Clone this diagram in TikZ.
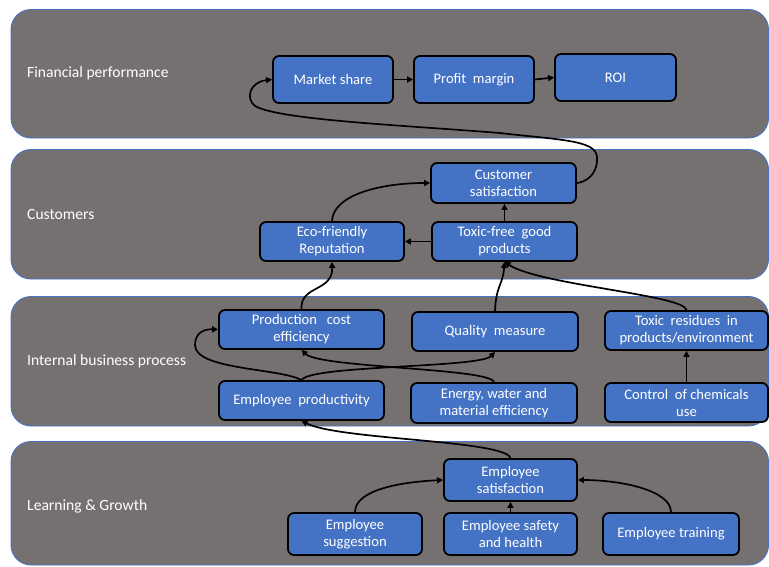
\documentclass[tikz,border=0pt]{standalone}
\usepackage{fontspec}
\setmainfont{Carlito}
\usetikzlibrary{arrows.meta}
\definecolor{bandgray}{HTML}{767171}
\definecolor{bandblue}{HTML}{4472C4}
\definecolor{boxblue}{HTML}{4472C4}
\begin{document}
\begin{tikzpicture}[x=1pt,y=-1pt,
  band/.style={draw=bandblue,line width=0.9pt,fill=bandgray,rounded corners=20pt},
  bandlabel/.style={anchor=west,text=white,font=\fontsize{15.6}{18}\selectfont,inner sep=0pt},
  box/.style={draw=black,line width=1.8pt,fill=boxblue,rounded corners=6pt,text=white,
    font=\fontsize{14.6}{17}\selectfont,align=center,inner sep=0pt},
  conn/.style={draw=black,line width=1.7pt,-{Triangle[length=6pt,width=6pt]}}]
\useasboundingbox (0,0) rectangle (769,566);
\begin{scope}
\clip (0,0) rectangle (769,566);
% bands
\draw[band] (11,9.5) rectangle (768.5,138);
\draw[band] (11,149.5) rectangle (768.5,279);
\draw[band] (11,296.5) rectangle (768.5,426);
\draw[band] (11,441.5) rectangle (768.5,565);
\node[bandlabel] (l1) at (27,73) {Financial performance};
\node[bandlabel] (l2) at (27,214) {Customers};
\node[bandlabel] (l3) at (27,361) {Internal business process};
\node[bandlabel] (l4) at (27,506) {Learning \& Growth};
% boxes
\node[box,minimum width=120pt,minimum height=47pt] (ms) at (333,79.5) {Market share};
\node[box,minimum width=120pt,minimum height=47pt] (pm) at (474,79.5) {Profit\ \ margin};
\node[box,minimum width=121pt,minimum height=47pt] (roi) at (615.5,77.5) {ROI};
\node[box,minimum width=145pt,minimum height=40pt] (cs) at (503.5,183) {Customer\\satisfaction};
\node[box,minimum width=144pt,minimum height=39pt] (eco) at (332,241.5) {Eco-friendly\\Reputation};
\node[box,minimum width=145pt,minimum height=39pt] (tf) at (504.5,241.5) {Toxic-free\ \ good\\products};
\node[box,minimum width=165pt,minimum height=39pt] (pce) at (301.5,329.5) {Production\ \ \ cost\\efficiency};
\node[box,minimum width=166pt,minimum height=39pt] (qm) at (495,331.5) {Quality\ \ measure};
\node[box,minimum width=163pt,minimum height=39pt] (tr) at (686.5,330.5) {Toxic\ \ residues\ \ in\\products/environment};
\node[box,minimum width=165pt,minimum height=39pt] (ep) at (301.5,400.5) {Employee\ \ productivity};
\node[box,minimum width=166pt,minimum height=40pt] (ew) at (494,403) {Energy, water and\\material efficiency};
\node[box,minimum width=163pt,minimum height=39pt] (cc) at (686.5,402.5) {Control\ \ of chemicals\\use};
\node[box,minimum width=133pt,minimum height=42pt] (es) at (510.5,480) {Employee\\satisfaction};
\node[box,minimum width=134pt,minimum height=42pt] (esg) at (355,534) {Employee\\suggestion};
\node[box,minimum width=133pt,minimum height=42pt] (esh) at (510.5,534) {Employee safety\\and health};
\node[box,minimum width=136pt,minimum height=42pt] (et) at (671,534) {Employee training};
\end{scope}
% connectors
\draw[conn] (ms.east) -- (pm.west);
\draw[conn] (pm.east) -- (roi.west);
\draw[conn] (cs.east) .. controls (592,181) and (598,168) .. (597,157)
  .. controls (596,140) and (560,140) .. (500,133)
  .. controls (400,125) and (280,120) .. (255,106)
  .. controls (245,98) and (250,82) .. (ms.west);
\draw[conn] (eco.north) .. controls (333,195) and (380,183) .. (cs.west);
\draw[conn] (tf.north) -- (tf.north |- cs.south);
\draw[conn] (tf.west) -- (eco.east);
\draw[conn] (pce.north) .. controls (300,285) and (333,292) .. (eco.south);
\draw[conn] (qm.north) .. controls (496,285) and (503,285) .. (tf.south);
\draw[conn] (tr.north) .. controls (685,295) and (540,285) .. (tf.south);
\draw[conn] (cc.north) -- (tr.south);
\draw[conn] (ep.north) .. controls (280,368) and (195,370) .. (195,345)
  .. controls (195,332) and (205,329) .. (pce.west);
\draw[conn] (ep.north) .. controls (310,365) and (480,368) .. (qm.south);
\draw[conn] (ew.north) .. controls (490,368) and (320,368) .. (pce.south);
\draw[conn] (es.north) .. controls (505,440) and (340,440) .. (ep.south);
\draw[conn] (esg.north) .. controls (355,490) and (400,482) .. (es.west);
\draw[conn] (esh.north) -- (es.south);
\draw[conn] (et.north) .. controls (671,490) and (620,480) .. (es.east);
\end{tikzpicture}
\end{document}
